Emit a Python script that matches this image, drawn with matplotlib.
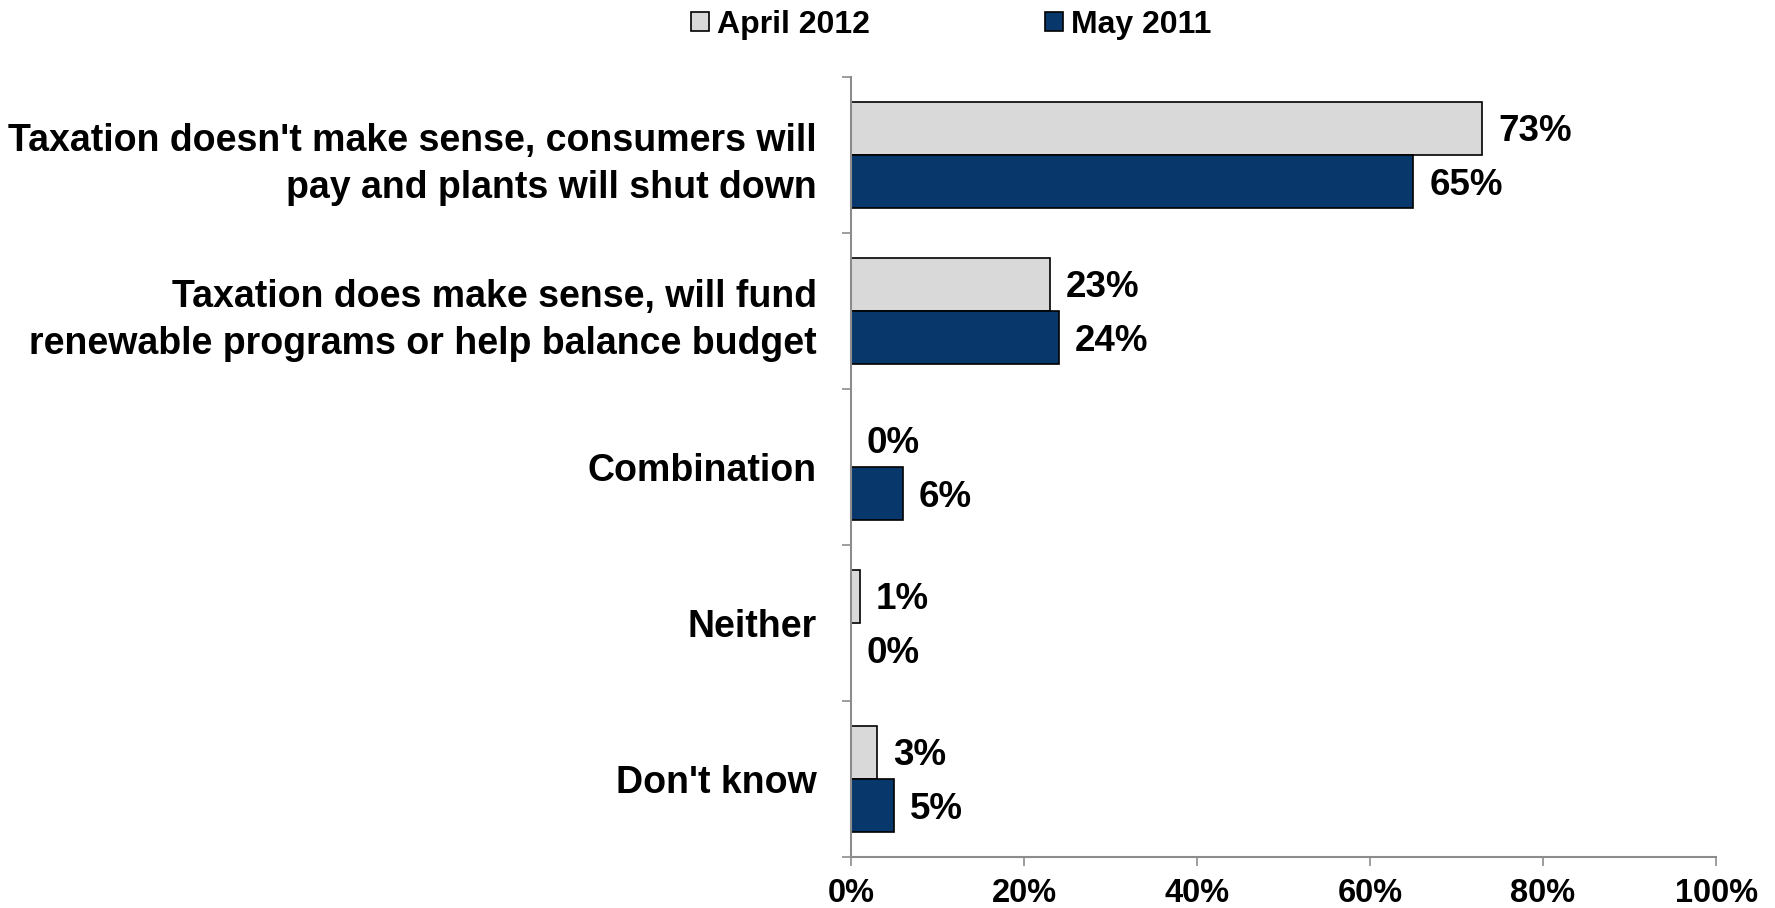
import matplotlib
matplotlib.use("Agg")
import matplotlib.pyplot as plt
import numpy as np

# Survey responses on taxation, share of respondents (%)
categories = [
    "Taxation doesn't make sense, consumers will\npay and plants will shut down",
    "Taxation does make sense, will fund\nrenewable programs or help balance budget",
    "Combination",
    "Neither",
    "Don't know",
]
april_2012 = [73, 23, 0, 1, 3]
may_2011 = [65, 24, 6, 0, 5]
series_names = ["April 2012", "May 2011"]
x_ticks = [0, 20, 40, 60, 80, 100]

plt.rcParams["font.family"] = ["Liberation Sans", "DejaVu Sans"]
plt.rcParams["font.weight"] = "bold"

fig = plt.figure(figsize=(17.75, 9.08), dpi=100)
ax = fig.add_axes([0.4794, 0.0562, 0.9668 - 0.4794, 0.9152 - 0.0562])

light = "#D9D9D9"
dark = "#08376B"
axis_gray = "#8C8C8C"
h = 0.342

y = np.arange(len(categories))
b1 = ax.barh(y - h / 2, april_2012, height=h, color=light, edgecolor="black",
             linewidth=1.2, label=series_names[0])
b2 = ax.barh(y + h / 2, may_2011, height=h, color=dark, edgecolor="black",
             linewidth=1.2, label=series_names[1])

for bars, vals in ((b1, april_2012), (b2, may_2011)):
    for rect, v in zip(bars, vals):
        ax.annotate(f"{v}%", (v, rect.get_y() + rect.get_height() / 2),
                    xytext=(11.5, -2.5), textcoords="offset points",
                    ha="left", va="center", fontsize=26.5, fontweight="bold")

ax.set_xlim(0, 100)
ax.set_ylim(len(categories) - 0.5, -0.5)

ax.set_xticks(x_ticks)
ax.set_xticklabels([f"{t}%" for t in x_ticks], fontsize=23.5, fontweight="bold")
ax.tick_params(axis="x", direction="out", length=6.5, width=1.2, color=axis_gray, pad=9)

ax.set_yticks(y)
ax.set_yticklabels(categories, fontsize=27, fontweight="bold", linespacing=1.38)
ax.tick_params(axis="y", which="major", length=0, pad=24.5)
ax.set_yticks(np.arange(len(categories) + 1) - 0.5, minor=True)
ax.tick_params(axis="y", which="minor", direction="out", length=6.5, width=1.2, color=axis_gray)

for side in ("top", "right"):
    ax.spines[side].set_visible(False)
for side in ("left", "bottom"):
    ax.spines[side].set_color(axis_gray)
    ax.spines[side].set_linewidth(1.5)

fig.legend(handles=[b1, b2], labels=series_names, loc="center",
           bbox_to_anchor=(0.536, 0.973), ncol=2, frameon=False,
           prop={"size": 23, "weight": "bold"}, handlelength=0.55, handleheight=0.55,
           handletextpad=0.25, columnspacing=5.5, borderaxespad=0)

fig.savefig("out.png", dpi=100)
